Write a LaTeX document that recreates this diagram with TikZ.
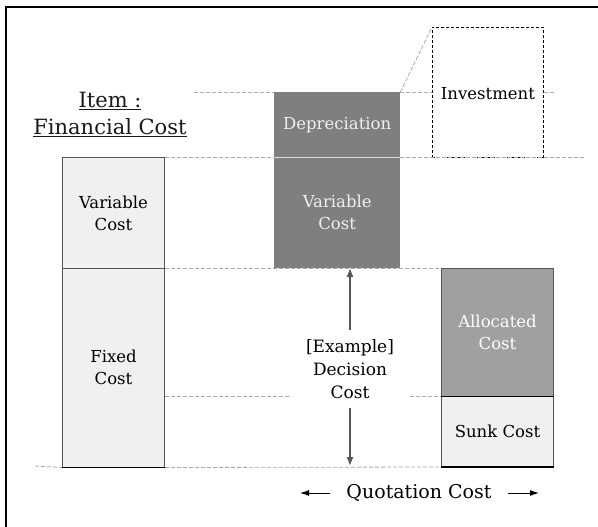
\documentclass[tikz,border=0pt]{standalone}
\usepackage{fontspec}
\setmainfont{DejaVu Serif}
\usetikzlibrary{arrows.meta}
\definecolor{lightfill}{HTML}{F0F0F0}
\definecolor{darkfill}{HTML}{7F7F7F}
\definecolor{midfill}{HTML}{A0A0A0}
\definecolor{guide}{HTML}{A8A8A8}
\definecolor{edge}{HTML}{555555}
\tikzset{
  boxtext/.style={font=\fontsize{16.5}{22}\selectfont, align=center, inner sep=0pt, anchor=north west},
  lightbox/.style={boxtext, fill=lightfill, draw=edge, line width=1pt, text=black},
  darkbox/.style={boxtext, fill=darkfill, text=lightfill},
  midbox/.style={boxtext, fill=midfill, draw=edge, line width=1pt, text=white},
  guideline/.style={draw=guide, line width=0.8pt, dash pattern=on 4pt off 2pt},
  investbox/.style={boxtext, draw=black, line width=0.9pt, dash pattern=on 3pt off 2pt},
  garrow/.style={draw=edge, line width=1.3pt, -{Latex[length=9pt,width=7pt]}},
  karrow/.style={draw=black, line width=1pt, -{Latex[length=9pt,width=6pt]}},
}
\begin{document}
\begin{tikzpicture}[x=1pt,y=-1pt]
\useasboundingbox (0,0) rectangle (598,527);
% frame (only top and left visible)
\draw[line width=1.5pt] (598,7) -- (6,7) -- (6,527);

% title
\node[font=\fontsize{21}{27}\selectfont, align=center, text=black!90] (title) at (110,114)
  {\underline{Item :}\\\underline{Financial Cost}};

% left column
\node[lightbox, minimum width=102, minimum height=111] (varL) at (62,157) {Variable\\Cost};
\node[lightbox, minimum width=102, minimum height=198.5] (fixL) at (62,268) {Fixed\\Cost};
\draw[black, line width=1.2pt] (fixL.south west) -- (fixL.south east);

% middle column
\node[darkbox, minimum width=126, minimum height=65] (dep) at (274,92) {Depreciation};
\node[darkbox, minimum width=126, minimum height=111] (varM) at (274,157) {Variable\\Cost};
\draw[lightfill!80!darkfill, line width=0.8pt] (varM.north west) -- (varM.north east);

% investment
\node[investbox, minimum width=111, minimum height=130, text depth=0pt] (inv) at (432,27) {\raisebox{-3pt}{Investment}};

% right column
\node[midbox, minimum width=112, minimum height=128] (alloc) at (441,268) {Allocated\\Cost};
\node[lightbox, minimum width=112, minimum height=70] (sunk) at (441,396) {Sunk Cost};
\draw[black, line width=1pt] (sunk.north west) -- (sunk.north east);
\draw[black, line width=1.2pt] (sunk.south west) -- (sunk.south east);

% guide lines
\coordinate (g92) at (194,92);
\coordinate (g92r) at (555,92);
\coordinate (g157r) at (585,157);
\coordinate (g466l) at (35,466);
\coordinate (g396a) at (290,396);
\coordinate (g396b) at (410,396);
\draw[guideline] (g92) -- (dep.north west);
\draw[guideline] (dep.north east) -- (inv.west |- dep.north east);
\draw[guideline] (inv.east |- g92r) -- (g92r);
\draw[guideline] (dep.north east) -- (inv.north west);
\draw[guideline] (varL.north east) -- (varM.north west);
\draw[guideline] (varM.north east) -- (g157r);
\draw[guideline] (fixL.north east) -- (alloc.north west);
\draw[guideline] (fixL.east |- g396a) -- (g396a);
\draw[guideline] (g396b) -- (sunk.north west);
\draw[guideline] (g466l) -- (fixL.south west);
\draw[guideline] (fixL.south east) -- (sunk.south west);

% decision cost
\node[font=\fontsize{17}{23}\selectfont, align=center, inner xsep=0pt, inner ysep=9pt] (dec) at (350,369)
  {[Example]\\Decision\\Cost};
\coordinate (dtop) at (350,268);
\coordinate (dbot) at (350,466);
\draw[garrow] (dec.north) -- (dtop);
\draw[garrow] (dec.south) -- (dbot);

% quotation cost
\node[font=\fontsize{19}{23}\selectfont, inner xsep=16pt, inner ysep=0pt] (quot) at (419,493) {Quotation Cost};
\coordinate (qL) at (300,493);
\coordinate (qR) at (539,493);
\draw[karrow] (quot.west) -- (qL);
\draw[karrow] (quot.east) -- (qR);
\end{tikzpicture}
\end{document}
